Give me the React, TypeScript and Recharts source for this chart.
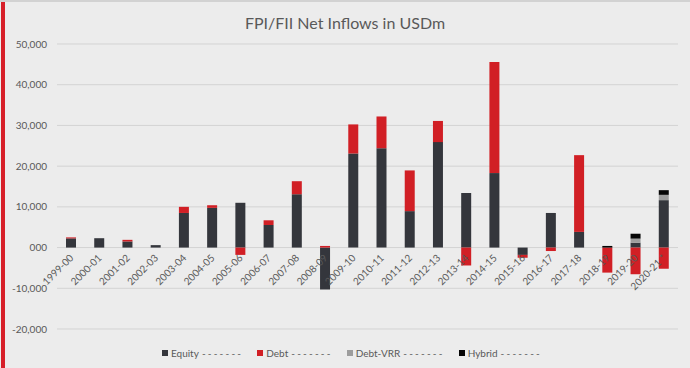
import React from 'react';
import { ComposedChart, Bar, XAxis, YAxis, CartesianGrid, Legend, ReferenceDot } from 'recharts';

// FPI / FII net inflows, USD m
const years = [
  '1999-00', '2000-01', '2001-02', '2002-03', '2003-04', '2004-05', '2005-06', '2006-07',
  '2007-08', '2008-09', '2009-10', '2010-11', '2011-12', '2012-13', '2013-14', '2014-15',
  '2015-16', '2016-17', '2017-18', '2018-19', '2019-20', '2020-21 *',
];
const equity = [2250, 2300, 1500, 600, 8500, 9750, 11000, 5550, 13100, -10300, 23100, 24400, 8950, 25900, 13400, 18300, -1800, 8500, 3850, 0, 1200, 11650];
const debt = [250, 0, 400, 0, 1500, 650, -1800, 1150, 3200, 400, 7150, 7800, 10000, 5200, -4400, 27300, -700, -850, 18850, -6150, -6550, -5200];
const debtVrr = [0, 0, 0, 0, 0, 0, 0, 0, 0, 0, 0, 0, 0, 0, 0, 0, 0, 0, 0, 0, 1000, 1300];
const hybrid = [0, 0, 0, 0, 0, 0, 0, 0, 0, 0, 0, 0, 0, 0, 0, 0, 0, 0, 0, 400, 1200, 1150];

const yTicks = [-20000, -10000, 0, 10000, 20000, 30000, 40000, 50000];

const series = [
  { key: 'equity', name: 'Equity', color: '#34363c' },
  { key: 'debt', name: 'Debt', color: '#d11f25' },
  { key: 'debtVrr', name: 'Debt-VRR', color: '#9d9d9d' },
  { key: 'hybrid', name: 'Hybrid', color: '#050505' },
];

const data = years.map((year, i) => ({
  year,
  equity: equity[i],
  debt: debt[i],
  debtVrr: debtVrr[i],
  hybrid: hybrid[i],
}));

const FONT = 'Lato, "Open Sans", sans-serif';
const TEXT = '#595959';

const formatY = (v: number) => (v === 0 ? '000' : v.toLocaleString('en-US'));

const YearLabel = (label: string) => (props: any) => (
  <text
    x={props.cx + 3}
    y={props.cy + 11}
    textAnchor="end"
    fontSize={10}
    fontFamily={FONT}
    fill={TEXT}
    transform={`rotate(-45, ${props.cx + 3}, ${props.cy + 11})`}
  >
    {label}
  </text>
);

const LegendContent = () => (
  <div
    style={{
      display: 'flex',
      justifyContent: 'center',
      gap: 14,
      height: 18,
      paddingLeft: 14,
      alignItems: 'center',
      fontFamily: FONT,
      fontSize: 10,
      color: TEXT,
    }}
  >
    {series.map((s) => (
      <div key={s.key} style={{ display: 'flex', alignItems: 'center' }}>
        <span style={{ width: 6, height: 6, background: s.color, marginRight: 3, display: 'inline-block' }} />
        <span>{s.name}</span>
        <span style={{ letterSpacing: 2.2, marginLeft: 3 }}>-------</span>
      </div>
    ))}
  </div>
);

export default function App() {
  return (
    <div
      style={{
        position: 'absolute',
        left: 0,
        top: 0,
        width: 690,
        height: 368,
        background: '#ececec',
        borderTop: '2px solid #d2d2d2',
        boxSizing: 'border-box',
        overflow: 'hidden',
      }}
    >
      <div style={{ position: 'absolute', left: 1, top: 0, width: 4, height: 368, background: '#d71f29' }} />
      <div
        style={{
          position: 'absolute',
          top: 11,
          width: 690,
          textAlign: 'center',
          fontFamily: FONT,
          fontSize: 16,
          color: TEXT,
        }}
      >
        FPI/FII Net Inflows in USDm
      </div>
      <div style={{ position: 'absolute', left: 0, top: -2 }}>
        <ComposedChart
          width={690}
          height={368}
          data={data}
          stackOffset="sign"
          margin={{ top: 44, right: 12, bottom: 21, left: 0 }}
          barCategoryGap="0%"
        >
          <CartesianGrid horizontal vertical={false} stroke="#d3d3d3" strokeWidth={1} />
          <XAxis dataKey="year" hide />
          <YAxis
            domain={[-20000, 50000]}
            ticks={yTicks}
            tickFormatter={formatY}
            width={57}
            axisLine={false}
            tickLine={false}
            tickSize={0}
            tickMargin={10}
            tick={{ fontSize: 10, fill: TEXT, fontFamily: FONT }}
            interval={0}
          />
          {series.map((s) => (
            <Bar
              key={s.key}
              dataKey={s.key}
              name={s.name}
              stackId="flows"
              fill={s.color}
              barSize={10}
              isAnimationActive={false}
            />
          ))}
          {years.map((y) => (
            <ReferenceDot key={y} x={y} y={0} r={0} shape={YearLabel(y)} ifOverflow="visible" />
          ))}
          <Legend
            verticalAlign="bottom"
            content={<LegendContent />}
            wrapperStyle={{ top: 344, left: 0, width: 690, height: 18 }}
          />
        </ComposedChart>
      </div>
    </div>
  );
}
